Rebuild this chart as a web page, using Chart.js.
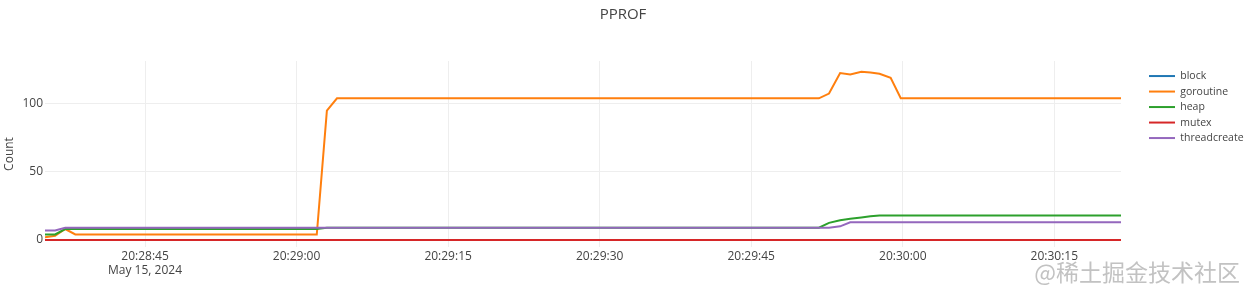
<!DOCTYPE html>
<html>
<head>
<meta charset="utf-8">
<script src="https://cdn.jsdelivr.net/npm/chart.js@4.4.1/dist/chart.umd.min.js"></script>
<style>
  html, body { margin: 0; padding: 0; background: #fff; }
  #wrap { position: relative; width: 1246px; height: 291px; }
  #mark { position: absolute; right: 6px; top: 260px; font: 23px "Noto Sans CJK SC"; line-height: 1; color: #c2c2c2; }
</style>
</head>
<body>
<div id="wrap">
  <canvas id="pprof-chart" width="1246" height="291"></canvas>
  <div id="mark">@稀土掘金技术社区</div>
</div>
<script>
// sample times, seconds after 20:28:00 (May 15, 2024)
const times = [35.1, 36.1, 37.1, 38.1, 62.0, 63.0, 64.0, 111.7, 112.7, 113.8, 114.8, 115.9, 116.8, 117.7, 118.8, 119.8, 141.6];
const block        = [0, 0, 0, 0, 0, 0, 0, 0, 0, 0, 0, 0, 0, 0, 0, 0, 0];
const goroutine    = [2, 3, 8, 4, 4, 95, 104, 104, 107.5, 122.5, 121.5, 123.5, 123, 122, 119, 104, 104];
const heap         = [4, 4, 8, 8, 8, 9, 9, 9, 12.5, 14.5, 15.5, 16.5, 17.3, 18, 18, 18, 18];
const mutex        = [0, 0, 0, 0, 0, 0, 0, 0, 0, 0, 0, 0, 0, 0, 0, 0, 0];
const threadcreate = [7, 7, 9, 9, 9, 9, 9, 9, 9, 10, 13, 13, 13, 13, 13, 13, 13];

const xTicks = [45, 60, 75, 90, 105, 120, 135];
const yTicks = [0, 50, 100];
const dateLabel = 'May 15, 2024';

const series = [
  { name: 'block', values: block, color: '#1f77b4' },
  { name: 'goroutine', values: goroutine, color: '#ff7f0e' },
  { name: 'heap', values: heap, color: '#2ca02c' },
  { name: 'mutex', values: mutex, color: '#d62728' },
  { name: 'threadcreate', values: threadcreate, color: '#9467bd' }
];

const pad = n => String(n).padStart(2, '0');
function clock(sec) {
  const m = 28 + Math.floor(sec / 60);
  const s = Math.round(sec % 60);
  return '20:' + pad(m) + ':' + pad(s);
}

const font = { family: "'Open Sans', sans-serif", size: 12 };

// chart.js paints the first dataset on top, plotly the last one -> reverse
const datasets = series.slice().reverse().map(s => ({
  label: s.name,
  data: times.map((t, i) => ({ x: t, y: s.values[i] })),
  borderColor: s.color,
  backgroundColor: s.color,
  borderWidth: 2,
  pointRadius: 0,
  tension: 0
}));

new Chart(document.getElementById('pprof-chart').getContext('2d'), {
  type: 'line',
  data: { datasets },
  options: {
    responsive: false,
    animation: false,
    devicePixelRatio: 1,
    layout: { padding: 0 },
    plugins: {
      title: {
        display: true,
        text: 'PPROF',
        color: '#444',
        font: { family: font.family, size: 15, weight: 'normal' },
        padding: { top: 6, bottom: 37 }
      },
      legend: {
        position: 'right',
        align: 'start',
        fullSize: false,
        reverse: true,
        maxWidth: 102,
        title: { display: true, text: '', font: { size: 4 }, padding: 0 },
        labels: {
          usePointStyle: true,
          pointStyle: 'line',
          pointStyleWidth: 26,
          color: '#444',
          font: { family: font.family, size: 10.5 },
          padding: 5
        }
      },
      tooltip: { enabled: false }
    },
    scales: {
      x: {
        type: 'linear',
        min: 35.1,
        max: 141.6,
        afterBuildTicks: s => { s.ticks = xTicks.map(v => ({ value: v })); },
        afterFit: s => { s.height = 44; },
        grid: { color: '#eee', drawTicks: false },
        border: { display: false },
        ticks: {
          autoSkip: false,
          maxRotation: 0,
          padding: 2,
          color: '#444',
          font,
          callback: (v, i) => i === 0 ? [clock(v), dateLabel] : clock(v)
        }
      },
      y: {
        min: -5.2,
        max: 131.4,
        afterBuildTicks: s => { s.ticks = yTicks.map(v => ({ value: v })); },
        afterFit: s => { s.width = 45; },
        grid: { color: c => c.tick && c.tick.value === 0 ? '#444' : '#eee', drawTicks: false },
        border: { display: false },
        ticks: { padding: 2, color: '#444', font },
        title: { display: true, text: 'Count', color: '#444', font, padding: { top: 2, bottom: 0 } }
      },
      // empty gap between plot and legend
      gap: {
        axis: 'y',
        position: 'right',
        min: 0,
        max: 1,
        afterFit: s => { s.width = 23; },
        grid: { display: false },
        border: { display: false },
        ticks: { display: false }
      }
    }
  }
});
</script>
</body>
</html>
